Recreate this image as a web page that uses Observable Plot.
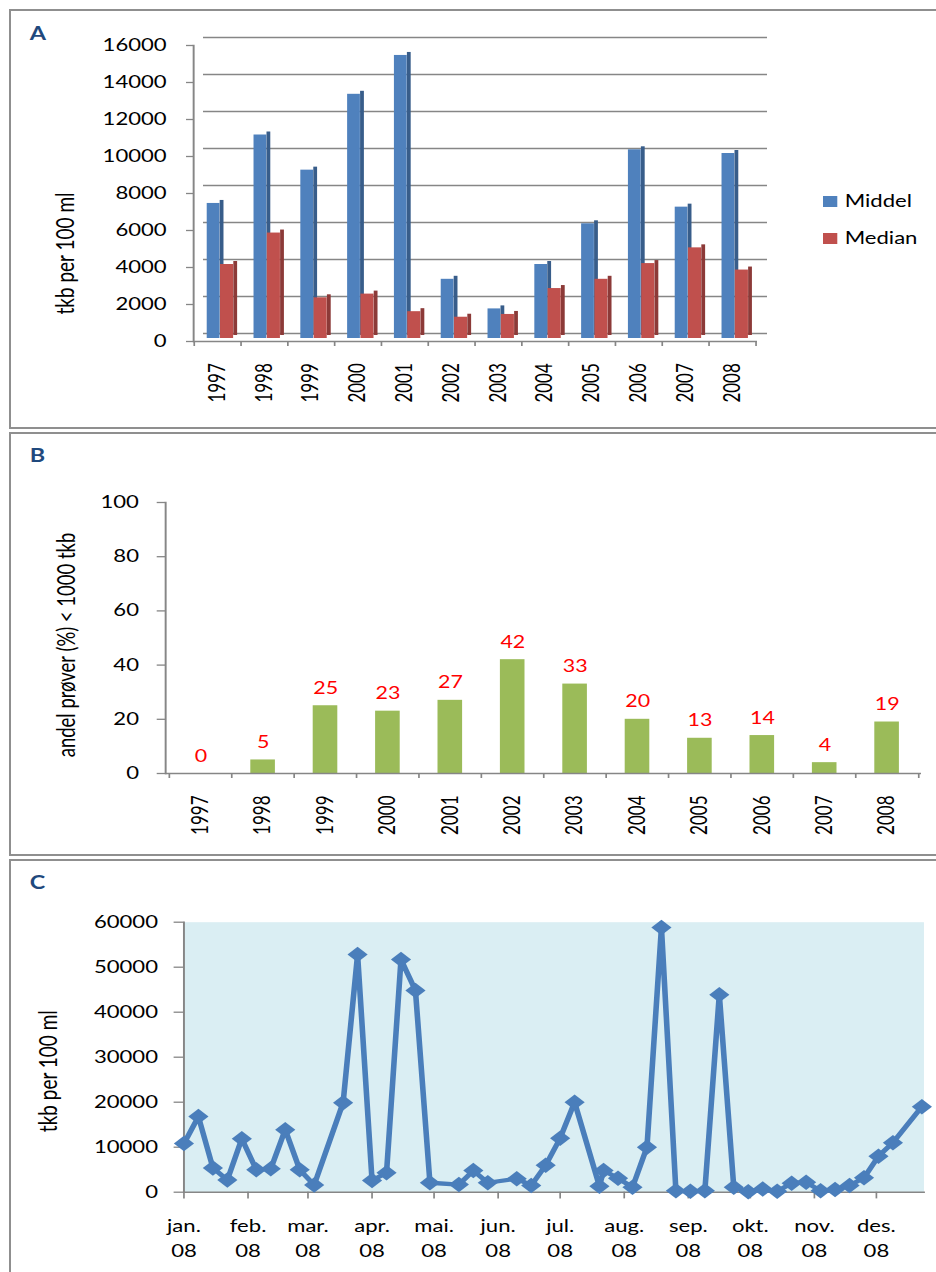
<!DOCTYPE html>
<html>
<head>
<meta charset="utf-8">
<script src="https://cdn.jsdelivr.net/npm/d3@7"></script>
<script src="https://cdn.jsdelivr.net/npm/@observablehq/plot@0.6"></script>
<style>
  html, body { margin: 0; padding: 0; background: #fff; }
  body { width: 936px; height: 1272px; position: relative; overflow: hidden; font-family: Lato, sans-serif; }
  .box { position: absolute; left: 9px; width: 1000px; border: 2px solid #8f8f8f; box-sizing: border-box; }
  .panel { position: absolute; left: 0; }
</style>
</head>
<body>
<div class="box" style="top:9px;height:420px"></div>
<div class="box" style="top:432px;height:424px"></div>
<div class="box" style="top:859px;height:500px"></div>
<div id="A" class="panel" style="top:0px"></div>
<div id="B" class="panel" style="top:430px"></div>
<div id="C" class="panel" style="top:860px"></div>
<script>
// ---------- DATA ----------
const years = ["1997","1998","1999","2000","2001","2002","2003","2004","2005","2006","2007","2008"];
const seriesNames = ["Middel", "Median"];
const middel = [7300, 11000, 9100, 13200, 15300, 3200, 1600, 4000, 6200, 10200, 7100, 10000];
const median = [4000, 5700, 2200, 2400, 1450, 1150, 1300, 2700, 3200, 4050, 4900, 3700];
const yTicksA = [0, 2000, 4000, 6000, 8000, 10000, 12000, 14000, 16000];
const titleA = "tkb per 100 ml";

const andel = [0, 5, 25, 23, 27, 42, 33, 20, 13, 14, 4, 19];
const yTicksB = [0, 20, 40, 60, 80, 100];
const titleB = "andel prøver (%) < 1000 tkb";

const sampleDates = [
  "2008-01-01","2008-01-08","2008-01-15","2008-01-22","2008-01-29",
  "2008-02-05","2008-02-12","2008-02-19","2008-02-26","2008-03-04",
  "2008-03-18","2008-03-25","2008-04-01","2008-04-08","2008-04-15",
  "2008-04-22","2008-04-29","2008-05-13","2008-05-20","2008-05-27",
  "2008-06-10","2008-06-17","2008-06-24","2008-07-01","2008-07-08",
  "2008-07-20","2008-07-22","2008-07-29","2008-08-05","2008-08-12",
  "2008-08-19","2008-08-26","2008-09-02","2008-09-09","2008-09-16",
  "2008-09-23","2008-09-30","2008-10-07","2008-10-14","2008-10-21",
  "2008-10-28","2008-11-04","2008-11-11","2008-11-18","2008-11-25",
  "2008-12-02","2008-12-09","2008-12-23"
];
const sampleValues = [
  10800, 16800, 5400, 2700, 11900,
  5000, 5200, 13900, 5000, 1600,
  19900, 52800, 2600, 4300, 51700,
  44800, 2100, 1700, 4800, 2100,
  3000, 1500, 6000, 12000, 20000,
  1300, 4800, 3100, 1100, 10000,
  58800, 300, 200, 300, 43900,
  1100, 100, 700, 200, 2000,
  2200, 300, 600, 1500, 3200,
  8000, 11000, 19000
];
const yTicksC = [0, 10000, 20000, 30000, 40000, 50000, 60000];
const monthLabels = ["jan.","feb.","mar.","apr.","mai.","jun.","jul.","aug.","sep.","okt.","nov.","des."];
const yearLabel = "08";
const titleC = "tkb per 100 ml";
const panelLetters = ["A", "B", "C"];

// ---------- STYLE / LAYOUT ----------
const S = 1.3;            // horizontal stretch of the original picture
const W = 936 / S;
const FONT = "Lato, 'Liberation Sans', sans-serif";
const GRAY = "#868686";
const LETTER = "#1F497D";
const colA = {Middel: ["#4F81BD", "#385D8A"], Median: ["#C0504D", "#8C3A38"]};

function finalize(svg, H) {
  svg.setAttribute("width", 936);
  svg.setAttribute("height", H);
  svg.setAttribute("viewBox", `0 0 ${W} ${H}`);
  svg.setAttribute("preserveAspectRatio", "none");
  svg.style.width = "936px";
  svg.style.height = H + "px";
  svg.style.maxWidth = "none";
  svg.style.background = "transparent";
  svg.style.overflow = "visible";
  return svg;
}

// ---------- PANEL A ----------
{
  const H = 430, left = 193, right = 757, top = 45, bottom = 341;
  const bw = (right - left) / 12 / S;
  const dMid = years.map((y, i) => ({year: y, value: middel[i]}));
  const dMed = years.map((y, i) => ({year: y, value: median[i]}));
  const bar3d = (data, [front, side], f0, f1) => [
    Plot.barY(data, {x: "year", y: "value", fill: front, insetLeft: f0 * bw, insetRight: (1 - f1) * bw, dy: -3}),
    Plot.barY(data, {x: "year", y: "value", fill: side, insetLeft: f1 * bw, insetRight: (1 - f1 - 0.085) * bw, dy: -6})
  ];
  const legend = seriesNames.flatMap((name, i) => [
    Plot.dot([name], {frameAnchor: "right", symbol: "square", r: 6.2, fill: colA[name][0], dx: (829.5 - right) / S, dy: 8 + 37 * i}),
    Plot.text([name], {frameAnchor: "right", text: d => d, textAnchor: "start", dx: (844 - right) / S, dy: 8 + 37 * i, fontSize: 17})
  ]);
  const svg = Plot.plot({
    width: W, height: H,
    marginLeft: left / S, marginRight: W - right / S, marginTop: top, marginBottom: H - bottom,
    style: {fontFamily: FONT, fontSize: "17px", color: "#000"},
    x: {type: "band", domain: years, padding: 0, axis: null, label: null},
    y: {domain: [0, 16000], axis: null, label: null},
    marks: [
      Plot.gridY({ticks: yTicksA, dx: 10 / S, dy: -8, stroke: GRAY, strokeOpacity: 1, strokeWidth: 1.4}),
      Plot.ruleY([0], {stroke: GRAY, strokeWidth: 1.5}),
      Plot.frame({anchor: "left", stroke: GRAY, strokeWidth: 1.5}),
      Plot.axisY({ticks: yTicksA, tickSize: 7 / S, tickFormat: () => "", stroke: GRAY, strokeWidth: 1.3, label: null}),
      Plot.axisY({ticks: yTicksA, tickSize: 0, tickPadding: (left - 166) / S, tickFormat: d => String(d), label: null, fontSize: 17}),
      Plot.axisX({ticks: years, tickSize: 0, tickPadding: 21.7, tickRotate: -90, label: null, fontSize: 17}),
      Plot.axisX({ticks: years, tickSize: 5, tickFormat: () => "", dx: -bw / 2, stroke: GRAY, strokeWidth: 1.3, label: null}),
      Plot.axisX({ticks: years.slice(-1), tickSize: 5, tickFormat: () => "", dx: bw / 2, stroke: GRAY, strokeWidth: 1.3, label: null}),
      ...bar3d(dMid, colA.Middel, 0.277, 0.553),
      ...bar3d(dMed, colA.Median, 0.56, 0.843),
      ...legend,
      Plot.text([titleA], {frameAnchor: "left", text: d => d, textAnchor: "middle", lineAnchor: "middle", rotate: -90, dx: (65 - left) / S, dy: 60, fontSize: 19}),
      Plot.text([panelLetters[0]], {frameAnchor: "top-left", text: d => d, textAnchor: "start", lineAnchor: "middle",
        dx: (29 - left) / S, dy: 33.5 - top, fontSize: 18, fontWeight: "bold", fill: LETTER})
    ]
  });
  document.getElementById("A").appendChild(finalize(svg, H));
}

// ---------- PANEL B ----------
{
  const H = 425, left = 165, right = 921, top = 72, bottom = 343;
  const bw = (right - left) / 12 / S;
  const dB = years.map((y, i) => ({year: y, value: andel[i]}));
  const svg = Plot.plot({
    width: W, height: H,
    marginLeft: left / S, marginRight: W - right / S, marginTop: top, marginBottom: H - bottom,
    style: {fontFamily: FONT, fontSize: "17px", color: "#000"},
    x: {type: "band", domain: years, padding: 0, axis: null, label: null},
    y: {domain: [0, 100], axis: null, label: null},
    marks: [
      Plot.barY(dB, {x: "year", y: "value", fill: "#9BBB59", insetLeft: 0.3 * bw, insetRight: 0.3 * bw}),
      Plot.ruleY([0], {stroke: GRAY, strokeWidth: 1.5}),
      Plot.frame({anchor: "left", stroke: GRAY, strokeWidth: 1.5}),
      Plot.axisY({ticks: yTicksB, tickSize: 8.3 / S, tickFormat: () => "", stroke: GRAY, strokeWidth: 1.3, label: null}),
      Plot.axisY({ticks: yTicksB, tickSize: 0, tickPadding: (left - 138.3) / S, tickFormat: d => String(d), label: null, fontSize: 17}),
      Plot.axisX({ticks: years, tickSize: 0, tickPadding: 22, tickRotate: -90, label: null, fontSize: 17}),
      Plot.axisX({ticks: years, tickSize: 5, tickFormat: () => "", dx: -bw / 2, stroke: GRAY, strokeWidth: 1.3, label: null}),
      Plot.axisX({ticks: years.slice(-1), tickSize: 5, tickFormat: () => "", dx: bw / 2, stroke: GRAY, strokeWidth: 1.3, label: null}),
      Plot.text(dB, {x: "year", y: "value", text: d => String(d.value), fill: "#FF0000", lineAnchor: "bottom", dy: -12, fontSize: 16.5}),
      Plot.text([titleB], {frameAnchor: "left", text: d => d, textAnchor: "middle", lineAnchor: "middle", rotate: -90, dx: (66.7 - left) / S, dy: 7, fontSize: 18.5}),
      Plot.text([panelLetters[1]], {frameAnchor: "top-left", text: d => d, textAnchor: "start", lineAnchor: "middle",
        dx: (29 - left) / S, dy: 25.7 - top, fontSize: 18, fontWeight: "bold", fill: LETTER})
    ]
  });
  document.getElementById("B").appendChild(finalize(svg, H));
}

// ---------- PANEL C ----------
{
  const H = 412, left = 183.3, right = 923.3, top = 61.7, bottom = 331.7;
  const dC = sampleDates.map((d, i) => ({date: new Date(d), value: sampleValues[i]}));
  const x0 = new Date("2008-01-01"), x1 = new Date("2008-12-24");
  const monthTicks = d3.utcMonth.range(x0, x1);
  const svg = Plot.plot({
    width: W, height: H,
    marginLeft: left / S, marginRight: W - right / S, marginTop: top, marginBottom: H - bottom,
    style: {fontFamily: FONT, fontSize: "17px", color: "#000"},
    x: {type: "utc", domain: [x0, x1], axis: null, label: null},
    y: {domain: [0, 60000], axis: null, label: null},
    marks: [
      Plot.frame({fill: "#DAEEF3", stroke: "none"}),
      Plot.frame({anchor: "left", stroke: GRAY, strokeWidth: 1.5}),
      Plot.frame({anchor: "bottom", stroke: GRAY, strokeWidth: 1.5}),
      Plot.axisY({ticks: yTicksC, tickSize: 9.7 / S, tickFormat: () => "", stroke: GRAY, strokeWidth: 1.3, label: null}),
      Plot.axisY({ticks: yTicksC, tickSize: 0, tickPadding: (left - 157.3) / S, tickFormat: d => String(d), label: null, fontSize: 17}),
      Plot.axisX({ticks: monthTicks, tickSize: 6.7, tickFormat: () => "", stroke: GRAY, strokeWidth: 1.3, label: null}),
      Plot.text(monthTicks, {x: d => d, text: d => monthLabels[d.getUTCMonth()], frameAnchor: "bottom", lineAnchor: "bottom", dy: 40, fontSize: 17}),
      Plot.text(monthTicks, {x: d => d, text: () => yearLabel, frameAnchor: "bottom", lineAnchor: "bottom", dy: 64.3, fontSize: 17}),
      Plot.line(dC, {x: "date", y: "value", stroke: "#4A7EBB", strokeWidth: 4.3}),
      Plot.dot(dC, {x: "date", y: "value", symbol: "diamond2", r: 7, fill: "#4A7EBB"}),
      Plot.text([titleC], {frameAnchor: "left", text: d => d, textAnchor: "middle", lineAnchor: "middle", rotate: -90, dx: (48 - left) / S, dy: 14, fontSize: 19}),
      Plot.text([panelLetters[2]], {frameAnchor: "top-left", text: d => d, textAnchor: "start", lineAnchor: "middle",
        dx: (29 - left) / S, dy: 22.5 - top, fontSize: 18, fontWeight: "bold", fill: LETTER})
    ]
  });
  document.getElementById("C").appendChild(finalize(svg, H));
}
</script>
</body>
</html>
